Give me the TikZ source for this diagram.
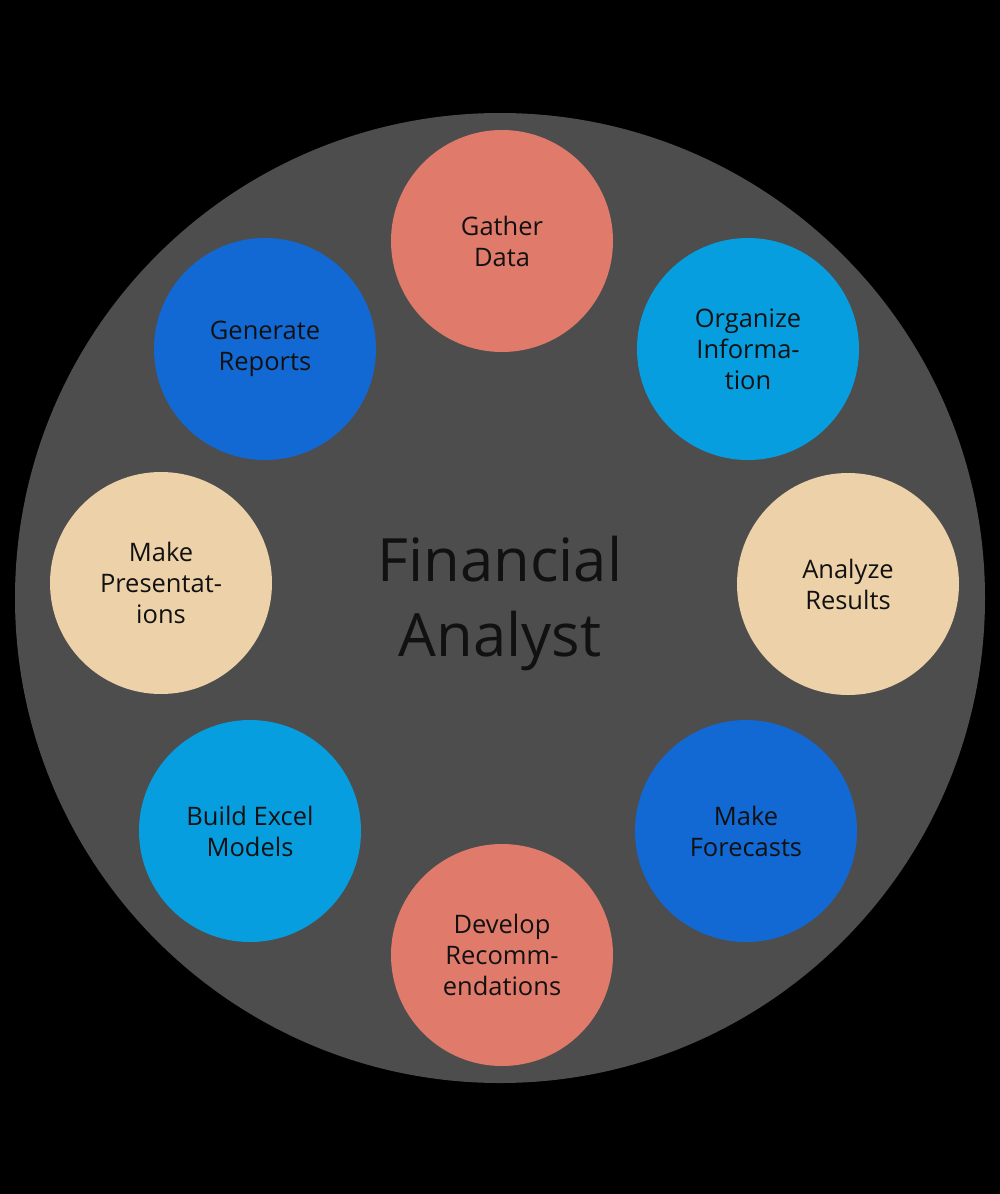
\documentclass[tikz,border=0pt]{standalone}
\usepackage{fontspec}
\setmainfont{Open Sans}
\usepackage{xcolor}
\usepackage{tikz}
\usetikzlibrary{positioning}
\definecolor{bgdark}{HTML}{4D4D4D}
\definecolor{salmon}{HTML}{E07B6B}
\definecolor{skyblue}{HTML}{079EDF}
\definecolor{sand}{HTML}{EDD1A9}
\definecolor{royal}{HTML}{1269D3}
\definecolor{inktext}{HTML}{111111}
\tikzset{
  task/.style={circle, minimum size=222*0.02cm, inner sep=0pt, align=center,
    text=inktext, font=\fontsize{14.5}{17.6}\selectfont},
}

\begin{document}
\begin{tikzpicture}[x=0.02cm, y=-0.02cm]
  \fill[black] (0,0) rectangle (1000,1194);
  \useasboundingbox (0,0) rectangle (1000,1194);
  % outer ring
  \fill[bgdark] (500,598) circle (485*0.02cm);
  \node[font=\fontsize{34}{42.7}\selectfont, text=inktext, align=center] (role) at (500,603)
    {Financial\\Analyst};
  % task circles
  \node[task, fill=salmon]  (gather)   at (502,241) {Gather\\Data};
  \node[task, fill=skyblue] (organize) at (748,349) {Organize\\Informa-\\tion};
  \node[task, fill=sand]    (analyze)  at (848,584) {Analyze\\Results};
  \node[task, fill=royal]   (forecast) at (746,831) {Make\\Forecasts};
  \node[task, fill=salmon]  (develop)  at (502,955) {Develop\\Recomm-\\endations};
  \node[task, fill=skyblue] (excel)    at (250,831) {Build Excel\\Models};
  \node[task, fill=sand]    (present)  at (161,583) {Make\\Presentat-\\ions};
  \node[task, fill=royal]   (reports)  at (265,349) {Generate\\Reports};
\end{tikzpicture}
\end{document}
